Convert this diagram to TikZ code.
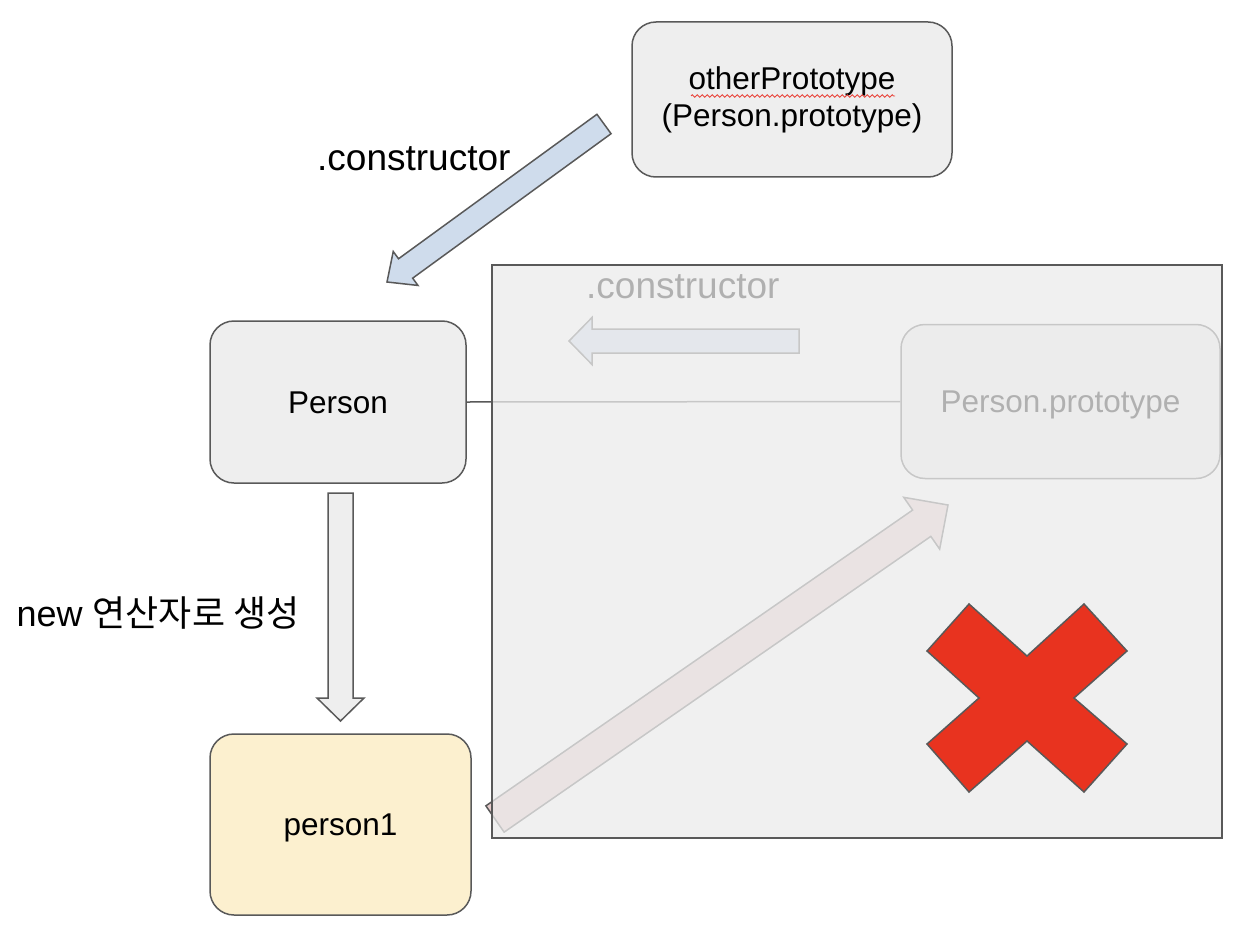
\documentclass[tikz,border=0pt]{standalone}
\usepackage{fontspec}
\setmainfont{Liberation Sans}
\newfontfamily\krfont{Noto Sans CJK KR}
\usetikzlibrary{calc,decorations.pathmorphing}
\definecolor{edge}{HTML}{595959}
\definecolor{boxfill}{HTML}{EEEEEE}
\definecolor{yellowfill}{HTML}{FCF0CF}
\definecolor{bluefill}{HTML}{CFDCEC}
\definecolor{pinkfill}{HTML}{E6CCCC}
\definecolor{panelfill}{HTML}{ECECEC}
\definecolor{xred}{HTML}{E8331F}
\definecolor{squiggle}{HTML}{E8453C}
\newcommand\blockarrow[6]{%
  % #1 style, #2 from, #3 to, #4 half shaft, #5 half head, #6 head length
  \coordinate (hb) at ($(#3)!#6!(#2)$);
  \draw[#1] ($(#2)!#4!90:(#3)$) -- ($(hb)!#4!90:(#3)$) -- ($(hb)!#5!90:(#3)$)
    -- (#3) -- ($(hb)!#5!-90:(#3)$) -- ($(hb)!#4!-90:(#3)$)
    -- ($(#2)!#4!-90:(#3)$) -- cycle;
}
\tikzset{
  boxtext/.style={font=\fontsize{31.5}{37}\selectfont},
  labeltext/.style={font=\fontsize{37}{43}\selectfont, inner sep=0pt},
  roundbox/.style={draw=edge, line width=1.5pt, fill=boxfill, rounded corners=24pt,
    align=center, boxtext},
  oneline/.style={text height=22.5pt, text depth=0pt},
  arrowshape/.style={draw=edge, line width=1.5pt, line join=miter},
}
\begin{document}
\begin{tikzpicture}[x=1pt,y=-1pt]
\useasboundingbox (0,0) rectangle (1246,928);
\fill[white] (0,0) rectangle (1246,928);

% nodes under the panel
\node[roundbox, oneline, minimum width=256pt, minimum height=162pt] (person) at (338,402) {Person};
\node[roundbox, oneline, minimum width=319pt, minimum height=154pt] (proto) at (1060.5,401.5) {Person.prototype};
\draw[edge, line width=1.5pt] (person.east) -- (proto.west);
\node[labeltext, anchor=base west] (faded) at (586,298) {.constructor};

\coordinate (a3s) at (799,341);
\coordinate (a3e) at (569,341);
\blockarrow{arrowshape, fill=bluefill}{a3s}{a3e}{12pt}{23.5pt}{23pt}

\coordinate (a4s) at (495,819);
\coordinate (a4e) at (948,505);
\blockarrow{arrowshape, fill=pinkfill}{a4s}{a4e}{16pt}{31.5pt}{32pt}

% translucent panel
\fill[panelfill, fill opacity=0.75] (492,265) rectangle (1222,838);
\draw[edge, line width=1.8pt] (492,265) rectangle (1222,838);

% red cross
\draw[edge, line width=1.5pt, fill=xred, line join=miter]
  (969,604) -- (1027,656) -- (1084,604) -- (1127,651) -- (1074,698) -- (1127,744)
  -- (1084,792) -- (1027,741) -- (969,792) -- (927,744) -- (979,698) -- (927,651) -- cycle;

% other nodes
\node[roundbox, minimum width=320pt, minimum height=155pt] (other) at (792,99.5)
  {otherPrototype\\(Person.prototype)};
\draw[squiggle, line width=0.8pt, decorate,
  decoration={zigzag, segment length=5pt, amplitude=1.3pt}] (691,96) -- (895,96);

\node[roundbox, oneline, fill=yellowfill, minimum width=261pt, minimum height=181pt] (person1) at (340.5,824.5) {person1};

\coordinate (a1s) at (604,124);
\coordinate (a1e) at (387,282);
\blockarrow{arrowshape, fill=bluefill}{a1s}{a1e}{12pt}{21pt}{23pt}

\coordinate (a2s) at (340.5,493);
\coordinate (a2e) at (340.5,721);
\blockarrow{arrowshape, fill=boxfill}{a2s}{a2e}{12.5pt}{23.5pt}{23pt}

\node[labeltext, anchor=base west] (ctor) at (317,171) {.constructor};
\node[labeltext, font=\fontsize{36}{42}\selectfont, anchor=base west] (newlabel) at (16.5,626) {new {\krfont 연산자로 생성}};
\end{tikzpicture}
\end{document}
